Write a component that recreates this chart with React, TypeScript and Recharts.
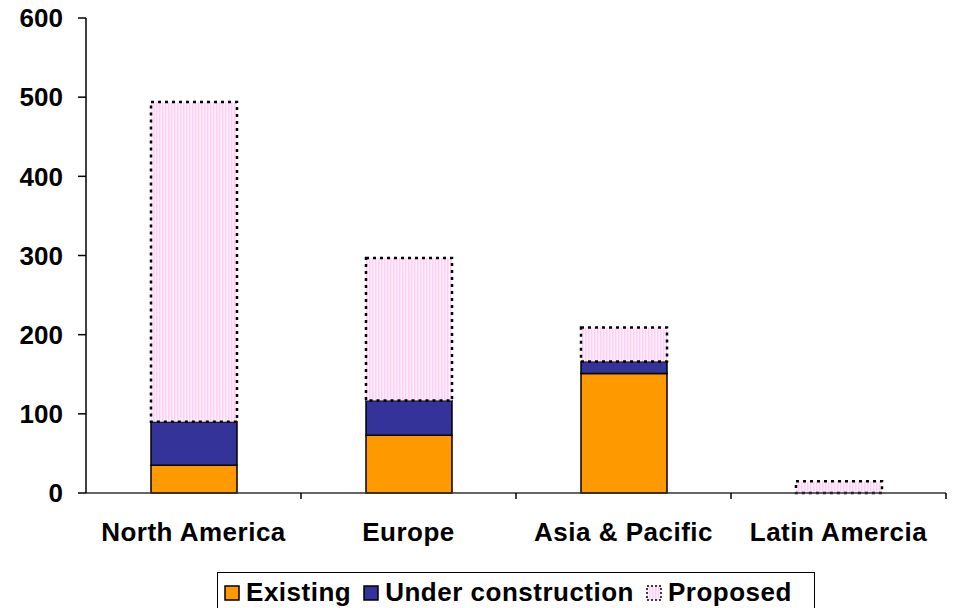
import React from 'react';
import { BarChart, Bar, XAxis, YAxis, Legend } from 'recharts';

const regions = ['North America', 'Europe', 'Asia & Pacific', 'Latin Amercia'];
const existing = [35, 73, 151, 0];
const underConstruction = [55, 44, 15, 0];
const proposed = [404, 180, 43, 15];
const yTicks = [0, 100, 200, 300, 400, 500, 600];

const chartData = regions.map((region, i) => ({
  region,
  existing: existing[i],
  underConstruction: underConstruction[i],
  proposed: proposed[i],
}));

const W = 953;
const H = 608;
const AXIS_W = 86;
const RIGHT = 7;
const FONT = 'Arial, "Liberation Sans", sans-serif';
const BAND = (W - AXIS_W - RIGHT) / regions.length;

const CategoryTick = (props: any) => {
  const { x, y, payload } = props;
  return (
    <g>
      <line x1={x + BAND / 2} y1={y} x2={x + BAND / 2} y2={y + 6} stroke="#000" strokeWidth={1.5} />
      <text
        x={x}
        y={y + 48}
        textAnchor="middle"
        fontFamily={FONT}
        fontWeight="bold"
        fontSize={26}
        letterSpacing={0.5}
        fill="#000"
      >
        {payload.value}
      </text>
    </g>
  );
};

const Swatch = ({ kind }: { kind: string }) => {
  if (kind === 'proposed') {
    return (
      <svg width={16} height={16} style={{ marginRight: 6 }}>
        <rect x={1} y={1} width={14} height={14} fill="url(#pinkDots)" stroke="#000" strokeWidth={1.5} strokeDasharray="2 2" />
      </svg>
    );
  }
  return (
    <svg width={16} height={16} style={{ marginRight: 6 }}>
      <rect x={1} y={1} width={14} height={14} fill={kind === 'existing' ? '#FF9900' : '#333399'} stroke="#000" strokeWidth={1.5} />
    </svg>
  );
};

const legendItems = [
  { key: 'existing', label: 'Existing' },
  { key: 'underConstruction', label: 'Under construction' },
  { key: 'proposed', label: 'Proposed' },
];

const LegendBox = () => (
  <div style={{ height: 38, display: 'flex', justifyContent: 'center', alignItems: 'flex-start' }}>
    <div
      style={{
        marginTop: 2,
        height: 40,
        border: '1.5px solid #000',
        borderBottom: 'none',
        display: 'flex',
        alignItems: 'center',
        padding: '0 10px 0 6px',
        boxSizing: 'border-box',
        fontFamily: FONT,
        fontWeight: 'bold',
        fontSize: 26,
        letterSpacing: 0.5,
        color: '#000',
      }}
    >
      {legendItems.map((it) => (
        <span key={it.key} style={{ display: 'flex', alignItems: 'center', marginRight: 12 }}>
          <Swatch kind={it.key} />
          {it.label}
        </span>
      ))}
    </div>
  </div>
);

const App: React.FC = () => {
  return (
    <div style={{ position: 'absolute', left: 0, top: 0, width: W, height: H, background: '#fff', overflow: 'hidden' }}>
      <BarChart width={W} height={H} data={chartData} margin={{ top: 18, right: RIGHT, left: 0, bottom: 0 }} barSize={86}>
        <defs>
          <pattern id="pinkDots" width={3} height={3} patternUnits="userSpaceOnUse">
            <rect width={3} height={3} fill="#FFF0FB" />
            <rect width={1.5} height={3} fill="#FFD0F4" />
          </pattern>
        </defs>
        <XAxis
          dataKey="region"
          height={77}
          axisLine={{ stroke: '#333', strokeWidth: 1.5 }}
          tickLine={false}
          tickSize={0}
          tickMargin={0}
          tick={<CategoryTick />}
          interval={0}
        />
        <YAxis
          width={AXIS_W}
          domain={[0, 600]}
          ticks={yTicks}
          interval={0}
          axisLine={{ stroke: '#000', strokeWidth: 1.5 }}
          tickLine={{ stroke: '#000', strokeWidth: 1.5 }}
          tickSize={8}
          tickMargin={15}
          tick={{ fill: '#000', fontFamily: FONT, fontWeight: 'bold', fontSize: 26 }}
        />
        <Legend
          verticalAlign="bottom"
          height={38}
          wrapperStyle={{ left: AXIS_W, width: W - AXIS_W - RIGHT }}
          content={<LegendBox />}
        />
        <Bar dataKey="existing" stackId="a" fill="#FF9900" stroke="#000" strokeWidth={1.5} isAnimationActive={false} />
        <Bar dataKey="underConstruction" stackId="a" fill="#333399" stroke="#000" strokeWidth={1.5} isAnimationActive={false} />
        <Bar
          dataKey="proposed"
          stackId="a"
          fill="url(#pinkDots)"
          stroke="#000"
          strokeWidth={2.5}
          strokeDasharray="3 4"
          isAnimationActive={false}
        />
      </BarChart>
    </div>
  );
};

export default App;
